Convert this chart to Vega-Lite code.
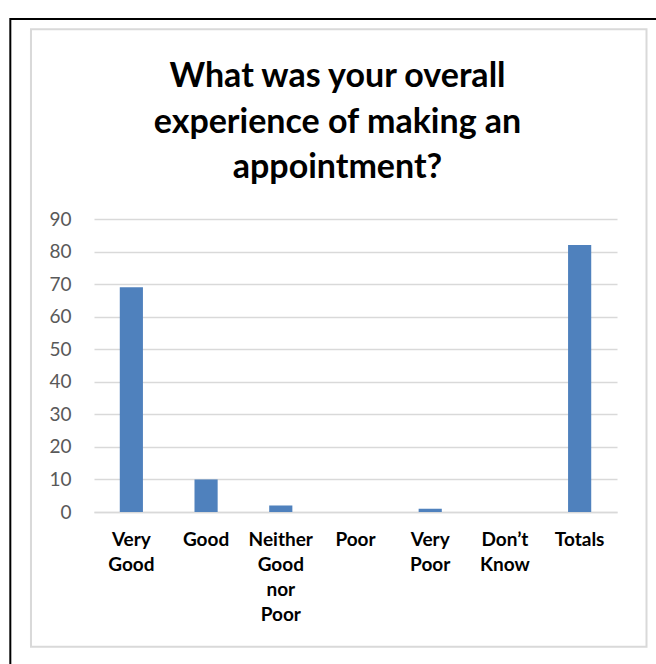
{
  "$schema": "https://vega.github.io/schema/vega-lite/v6.json",
  "width": 523,
  "height": 293,
  "autosize": {"type": "none"},
  "padding": {"left": 94, "top": 219, "right": 39, "bottom": 152},
  "background": "white",
  "config": {"view": {"stroke": null}, "font": "Lato"},
  "title": {
    "text": ["What was your overall", "experience of making an", "appointment?"],
    "font": "Lato",
    "fontSize": 34,
    "fontWeight": "bold",
    "color": "black",
    "lineHeight": 45.5,
    "anchor": "middle",
    "frame": "group",
    "dx": -18,
    "offset": -167
  },
  "datasets": {
    "answers": [
      {"category": "Very Good", "count": 69},
      {"category": "Good", "count": 10},
      {"category": "Neither Good nor Poor", "count": 2},
      {"category": "Poor", "count": 0},
      {"category": "Very Poor", "count": 1},
      {"category": "Don’t Know", "count": 0},
      {"category": "Totals", "count": 82}
    ],
    "frames": [
      {"name": "outer", "x": -0.16, "x2": 1.2, "y": 151.43, "y2": -60},
      {"name": "inner", "x": -0.1205, "x2": 1.0564, "y": 148.27, "y2": -41.37}
    ]
  },
  "layer": [
    {
      "data": {"name": "frames"},
      "mark": {"type": "rect", "filled": false, "clip": false},
      "encoding": {
        "x": {"field": "x", "type": "quantitative", "scale": {"domain": [0, 1], "nice": false, "zero": false}, "axis": null},
        "x2": {"field": "x2"},
        "y": {"field": "y", "type": "quantitative", "scale": {"domain": [0, 90], "nice": false, "zero": false}, "axis": null},
        "y2": {"field": "y2"},
        "stroke": {"field": "name", "type": "nominal", "scale": {"domain": ["outer", "inner"], "range": ["#000000", "#d9d9d9"]}, "legend": null},
        "strokeWidth": {"field": "name", "type": "nominal", "scale": {"domain": ["outer", "inner"], "range": [2, 2]}, "legend": null}
      }
    },
    {
      "data": {"name": "answers"},
      "mark": {"type": "bar", "color": "#4f81bd"},
      "encoding": {
        "x": {
          "field": "category",
          "type": "nominal",
          "sort": null,
          "scale": {"paddingInner": 0.69, "paddingOuter": 0.345},
          "axis": {
            "title": null,
            "labelAngle": 0,
            "labelExpr": "split(datum.label, ' ')",
            "labelFont": "Lato",
            "labelFontSize": 19,
            "labelFontWeight": "bold",
            "labelColor": "#000000",
            "labelLineHeight": 25.3,
            "labelPadding": 18,
            "ticks": false,
            "domain": true,
            "domainColor": "#d9d9d9",
            "domainWidth": 1.5,
            "grid": false
          }
        },
        "y": {
          "field": "count",
          "type": "quantitative",
          "scale": {"domain": [0, 90], "nice": false},
          "axis": {
            "title": null,
            "values": [0, 10, 20, 30, 40, 50, 60, 70, 80, 90],
            "labelFont": "Lato",
            "labelFontSize": 19,
            "labelColor": "#595959",
            "labelPadding": 23,
            "ticks": false,
            "domain": false,
            "grid": true,
            "gridColor": "#d9d9d9",
            "gridWidth": 1.5
          }
        }
      }
    }
  ],
  "resolve": {"scale": {"x": "independent", "y": "independent"}}
}
